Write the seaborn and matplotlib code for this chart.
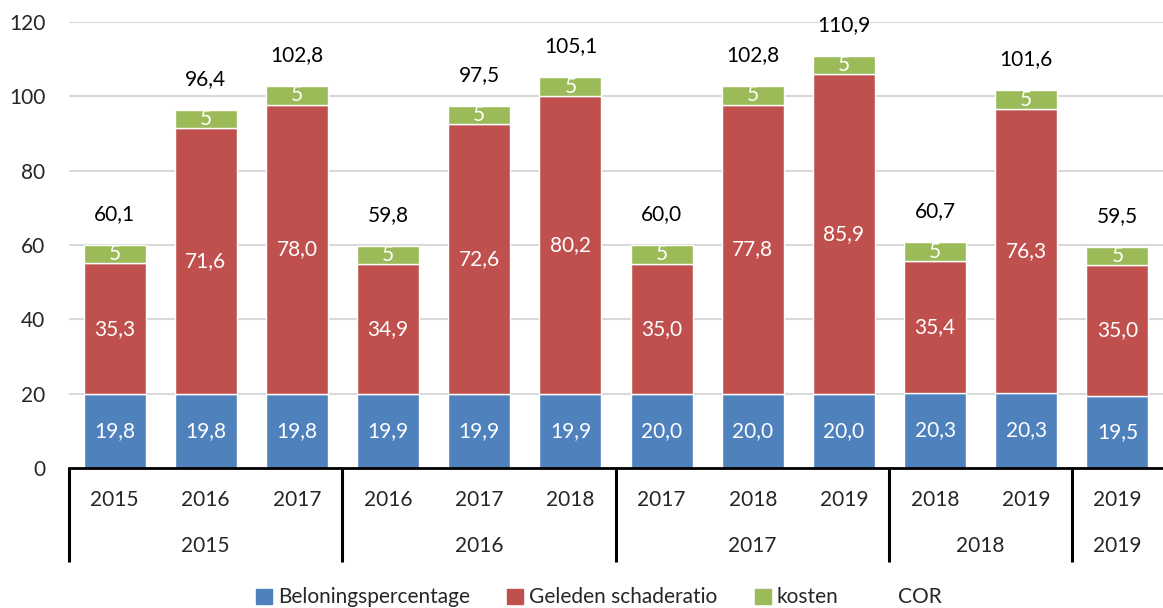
import numpy as np
import pandas as pd
import matplotlib
matplotlib.use("Agg")
import matplotlib.pyplot as plt
import matplotlib.transforms as mtransforms
from matplotlib.patches import Patch
import seaborn as sns

# data
jaar = ["2015", "2016", "2017", "2016", "2017", "2018",
        "2017", "2018", "2019", "2018", "2019", "2019"]
groep = ["2015", "2016", "2017", "2018", "2019"]
groep_grootte = [3, 3, 3, 2, 1]
beloning = [19.8, 19.8, 19.8, 19.9, 19.9, 19.9, 20.0, 20.0, 20.0, 20.3, 20.3, 19.5]
schade = [35.3, 71.6, 78.0, 34.9, 72.6, 80.2, 35.0, 77.8, 85.9, 35.4, 76.3, 35.0]
kosten = [5, 5, 5, 5, 5, 5, 5, 5, 5, 5, 5, 5]
cor = [60.1, 96.4, 102.8, 59.8, 97.5, 105.1, 60.0, 102.8, 110.9, 60.7, 101.6, 59.5]

blauw, rood, groen = "#4F81BD", "#C0504D", "#9BBB59"

df = pd.DataFrame({"pos": np.arange(len(jaar)), "beloning": beloning,
                   "schade": schade, "kosten": kosten, "cor": cor})
df["b2"] = df["beloning"]
df["b3"] = df["beloning"] + df["schade"]

sns.set_theme(style="white")
plt.rcParams["font.family"] = ["Lato", "DejaVu Sans"]

fig = plt.figure(figsize=(11.63, 6.08), dpi=100)
ax = fig.add_axes([0.0593, 0.2303, 0.9407, 0.7335])

w = 0.68
sns.barplot(data=df, x="pos", y="beloning", color=blauw, width=w, saturation=1, ax=ax)
sns.barplot(data=df, x="pos", y="schade", bottom=df["b2"], color=rood, width=w, saturation=1, ax=ax)
sns.barplot(data=df, x="pos", y="kosten", bottom=df["b3"], color=groen, width=w, saturation=1, ax=ax)

fs = 15
for i, r in df.iterrows():
    ax.text(i, r["beloning"] / 2, f"{r['beloning']:.1f}".replace(".", ","),
            ha="center", va="center", color="white", fontsize=fs)
    ax.text(i, r["b2"] + r["schade"] / 2, f"{r['schade']:.1f}".replace(".", ","),
            ha="center", va="center", color="white", fontsize=fs)
    ax.text(i, r["b3"] + r["kosten"] / 2, f"{int(r['kosten'])}",
            ha="center", va="center", color="white", fontsize=fs)
    ax.annotate(f"{r['cor']:.1f}".replace(".", ","), (i, r["cor"]),
                xytext=(0, 31), textcoords="offset pixels",
                ha="center", va="center", color="black", fontsize=fs)

ax.set_ylim(0, 120)
ax.set_xlim(-0.5, len(jaar) - 0.5)
ax.set_yticks(range(0, 121, 20))
ax.tick_params(axis="y", labelsize=fs, length=0, pad=17)
ax.yaxis.grid(True, color="#D9D9D9", lw=1.5)
ax.set_axisbelow(True)
ax.set_xlabel("")
ax.set_ylabel("")
ax.set_xticks([])
for s in ["left", "right", "top"]:
    ax.spines[s].set_visible(False)
ax.spines["bottom"].set_color("black")
ax.spines["bottom"].set_linewidth(2)

# two level x axis
trans = mtransforms.blended_transform_factory(ax.transData, ax.transAxes)
lvl1_y, lvl2_y, line_bot = -0.072, -0.176, -0.21
for i, lab in enumerate(jaar):
    ax.text(i, lvl1_y, lab, transform=trans, ha="center", va="center", fontsize=fs)
start = 0
grens = [-0.5]
for g, n in zip(groep, groep_grootte):
    mid = start + (n - 1) / 2
    ax.text(mid, lvl2_y, g, transform=trans, ha="center", va="center", fontsize=fs)
    start += n
    grens.append(start - 0.5)
for gx in grens[:-1]:
    ax.plot([gx, gx], [0, line_bot], transform=trans, color="black", lw=2.2,
            clip_on=False, solid_capstyle="butt")

handles = [Patch(color=blauw, label="Beloningspercentage"),
           Patch(color=rood, label="Geleden schaderatio"),
           Patch(color=groen, label="kosten"),
           Patch(facecolor="none", edgecolor="none", label="COR")]
fig.legend(handles=handles, loc="lower center", bbox_to_anchor=(0.515, -0.03),
           ncol=4, frameon=False, fontsize=fs, handlelength=0.75, handleheight=0.75,
           handletextpad=0.3, columnspacing=1.8)

fig.savefig("out.png", dpi=100)
